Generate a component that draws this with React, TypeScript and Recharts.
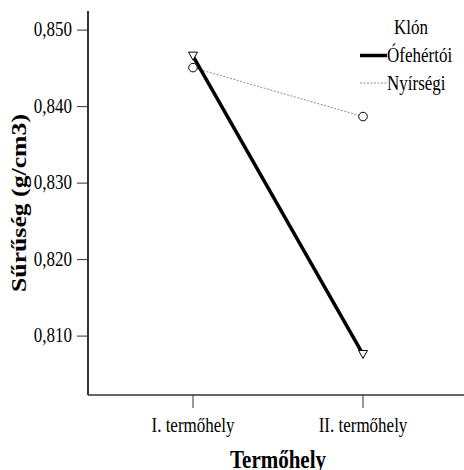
import React from "react";
import { Legend, Line, LineChart, XAxis, YAxis } from "recharts";

const FONT = '"Liberation Serif", "Times New Roman", serif';
const STRETCH = 1.2;

const sites = ["I. termőhely", "II. termőhely"];
const ofehertoi = [0.8466, 0.8076];
const nyirsegi = [0.8451, 0.8387];
const yTicks = [0.81, 0.82, 0.83, 0.84, 0.85];
const yDomain = [0.8023, 0.8525];

const data = sites.map((site, i) => ({
  site,
  ofehertoi: ofehertoi[i],
  nyirsegi: nyirsegi[i],
}));

const fmt = (v: number) => v.toFixed(3).replace(".", ",");

// text drawn slightly taller than wide, like the exported SPSS graphics
const TallText = ({ x, y, anchor = "start", size = 17, bold = false, dy = 0, children }: any) => (
  <text
    transform={`translate(${x},${y}) scale(1,${STRETCH})`}
    dy={dy}
    textAnchor={anchor}
    fontFamily={FONT}
    fontSize={size}
    fontWeight={bold ? "bold" : "normal"}
    fill="#000"
  >
    {children}
  </text>
);

const XTick = (props: any) => {
  const { x, y, payload } = props;
  return (
    <TallText x={x} y={y} anchor="middle" dy="0.6em">
      {payload.value}
    </TallText>
  );
};

const YTick = (props: any) => {
  const { x, y, payload } = props;
  return (
    <TallText x={x} y={y} anchor="end" dy="0.3em">
      {fmt(payload.value)}
    </TallText>
  );
};

// hollow downward triangle
const TriangleDot = (props: any) => {
  const { cx, cy } = props;
  if (cx == null || cy == null) return null;
  return (
    <path
      d={`M${cx - 4.5},${cy - 4} L${cx + 4.5},${cy - 4} L${cx},${cy + 4} Z`}
      fill="#fff"
      stroke="#000"
      strokeWidth={1}
    />
  );
};

const CircleDot = (props: any) => {
  const { cx, cy } = props;
  if (cx == null || cy == null) return null;
  return <circle cx={cx} cy={cy} r={4.3} fill="#fff" stroke="#000" strokeWidth={1} />;
};

const XTitle = (props: any) => {
  const { viewBox } = props;
  return (
    <TallText x={viewBox.x + viewBox.width / 2} y={viewBox.y + viewBox.height - 2} anchor="middle" size={21} bold>
      Termőhely
    </TallText>
  );
};

const YTitle = (props: any) => {
  const { viewBox } = props;
  const x = viewBox.x + 26;
  const y = viewBox.y + viewBox.height / 2;
  return (
    <text
      transform={`translate(${x},${y}) rotate(-90) scale(1.17,1)`}
      textAnchor="middle"
      fontFamily={FONT}
      fontWeight="bold"
      fontSize={22}
      fill="#000"
    >
      Sűrűség (g/cm3)
    </text>
  );
};

const KlonLegend = () => (
  <svg width={112} height={90} style={{ display: "block" }}>
    <TallText x={39} y={22}>
      Klón
    </TallText>
    <line x1={5} x2={32} y1={43.5} y2={43.5} stroke="#000" strokeWidth={3.5} />
    <TallText x={32} y={50}>
      Ófehértói
    </TallText>
    <line
      x1={5}
      x2={32}
      y1={71}
      y2={71}
      stroke="#8c8c8c"
      strokeWidth={1}
      strokeDasharray="2 1.5"
    />
    <TallText x={32} y={78}>
      Nyírségi
    </TallText>
  </svg>
);

export default function App() {
  return (
    <div
      style={{
        position: "absolute",
        left: 0,
        top: 0,
        width: 464,
        height: 470,
        overflow: "hidden",
        background: "#fff",
      }}
    >
      <LineChart
        width={472}
        height={470}
        data={data}
        margin={{ top: 11, right: 4, bottom: 0, left: 0 }}
      >
        <XAxis
          dataKey="site"
          type="category"
          padding={{ left: 105, right: 105 }}
          height={75}
          tickSize={13}
          tickMargin={12}
          axisLine={{ stroke: "#333", strokeWidth: 1.5 }}
          tickLine={{ stroke: "#333", strokeWidth: 1 }}
          tick={<XTick />}
          label={<XTitle />}
        />
        <XAxis
          xAxisId="top"
          orientation="top"
          dataKey="site"
          height={0}
          tick={false}
          tickLine={false}
          axisLine={{ stroke: "#333", strokeWidth: 1.5 }}
        />
        <YAxis
          type="number"
          domain={yDomain}
          ticks={yTicks}
          allowDataOverflow
          width={88}
          tickSize={11}
          tickMargin={5}
          axisLine={{ stroke: "#333", strokeWidth: 2 }}
          tickLine={{ stroke: "#333", strokeWidth: 1 }}
          tick={<YTick />}
          label={<YTitle />}
        />
        <Legend
          layout="vertical"
          align="center"
          verticalAlign="middle"
          wrapperStyle={{ left: 355, top: 12, width: 112, height: 90 }}
          content={() => <KlonLegend />}
        />
        <Line
          dataKey="nyirsegi"
          name="Nyírségi"
          stroke="#8c8c8c"
          strokeWidth={1}
          strokeDasharray="2 1.5"
          dot={<CircleDot />}
          activeDot={false}
          isAnimationActive={false}
        />
        <Line
          dataKey="ofehertoi"
          name="Ófehértói"
          stroke="#000"
          strokeWidth={3.5}
          dot={<TriangleDot />}
          activeDot={false}
          isAnimationActive={false}
        />
      </LineChart>
    </div>
  );
}
